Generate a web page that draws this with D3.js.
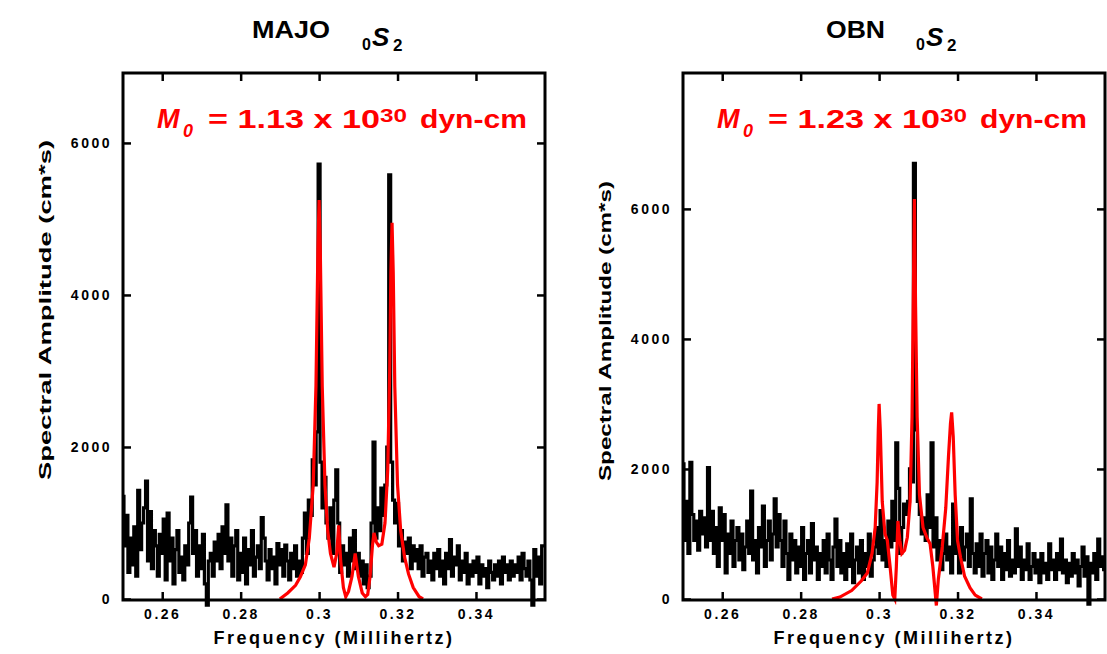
<!DOCTYPE html>
<html>
<head>
<meta charset="utf-8">
<script src="https://cdn.jsdelivr.net/npm/d3@7"></script>
<style>
  body { margin: 0; background: #fff; }
  svg { display: block; }
  text { font-family: "Liberation Sans", Arial, Helvetica, sans-serif; font-weight: bold; }
</style>
</head>
<body>
<div id="chart"></div>
<script>
// frequency grid of the observed spectra (Millihertz)
const freqStart = 0.25;
const freqStep = 0.0005;

const xTicks = [0.26, 0.28, 0.30, 0.32, 0.34];
const xTickLabels = ["0.26", "0.28", "0.3", "0.32", "0.34"];
const yTicks = [0, 2000, 4000, 6000];

// MAJO observed spectrum
const majoObs = [
  1350, 700, 1100, 350, 800, 450, 950, 300, 1430, 650,
  1000, 1200, 1550, 500, 1150, 400, 900, 700, 300, 850,
  600, 1050, 250, 1130, 500, 800, 200, 650, 900, 350,
  550, 250, 700, 450, 1000, 1340, 600, 900, 300, 700,
  400, 850, 200, -80, 500, 600, 300, 750, 500, 850,
  400, 950, 600, 1240, 500, 800, 300, 700, 900, 250,
  600, 350, 800, 200, 650, 450, 900, 300, 550, 700,
  400, 1070, 800, 500, 250, 650, 400, 550, 200, 730,
  450, 650, 300, 710, 500, 250, 600, 400, 700, 300,
  500, 350, 800, 1130, 600, 1300, 1100, 1830, 1500, 2200,
  5720, 1800, 1200, 1600, 1000, 800, 1200, 600, 1300, 1700,
  1000, 350, 700, 450, 600, 300, 800, 500, 900, 400,
  600, 300, 500, 200, 450, 150, 300, 1000, 2065, 800,
  1200, 900, 1460, 1100, 1500, 2000, 5580, 1800, 1300, 1000,
  1260, 700, 900, 500, 750, 600, 800, 400, 700, 500,
  650, 400, 700, 300, 550, 600, 350, 500, 250, 600,
  400, 650, 300, 500, 200, 600, 400, 780, 300, 550,
  450, 700, 250, 500, 350, 600, 200, 450, 300, 500,
  350, 550, 200, 450, 300, 400, 150, 500, 350, 250,
  450, 300, 500, 200, 550, 350, 450, 250, 500, 300,
  450, 350, 550, 250, 600, 400, 300, 500, 250, -80,
  650, 300, 550, 200, 700, 700
];

// MAJO synthetic fit
const majoFitFreq = [
  0.2900, 0.2920, 0.2940, 0.2952, 0.2965, 0.2975, 0.2985, 0.2992, 0.2997, 0.3000,
  0.3003, 0.3008, 0.3015, 0.3022, 0.3029, 0.3038, 0.3045, 0.3050, 0.3055, 0.3062,
  0.3068, 0.3075, 0.3084, 0.3092, 0.3100, 0.3110, 0.3118, 0.3124, 0.3130, 0.3136,
  0.3140, 0.3146, 0.3152, 0.3160, 0.3168, 0.3175, 0.3180, 0.3183, 0.3186, 0.3189,
  0.3193, 0.3200, 0.3208, 0.3218, 0.3228, 0.3240, 0.3255, 0.3265
];
const majoFit = [
  0, 80, 180, 290, 450, 800, 1500, 2800, 4600, 5250,
  4600, 2800, 1500, 900, 600, 420, 600, 970, 500, 150,
  30, 100, 300, 600, 300, 80, 30, 60, 300, 700,
  870, 750, 700, 720, 1000, 1700, 3000, 4300, 4950, 4300,
  2800, 1500, 900, 550, 330, 150, 30, 0
];

// OBN observed spectrum
const obnObs = [
  2080, 900, 1500, 700, 2100, 1300, 900, 1200, 750, 1350,
  1000, 1250, 800, 2020, 900, 1350, 700, 1100, 500, 1400,
  900, 1300, 400, 1000, 700, 1200, 500, 900, 1100, 600,
  1000, 450, 800, 1200, 700, 1660, 600, 900, 400, 1100,
  800, 1430, 500, 900, 1200, 600, 1000, 1540, 800, 1300,
  900, 500, 1200, 700, 300, 1000, 600, 900, 400, 800,
  500, 1100, 300, 700, 900, 400, 1160, 600, 800, 300,
  700, 500, 900, 400, 1000, 600, 300, 800, 1230, 500,
  900, 400, 700, 300, 850, 500, 1000, 250, 600, 800,
  400, 900, 300, 700, 500, 1000, 350, 600, 800, 1100,
  700, 1360, 600, 900, 500, 1200, 800, 1500, 900, 2400,
  1700, 700, 1100, 1460, 1300, 1500, 2000, 1800, 6700, 2600,
  1500, 1300, 1000, 1250, 900, 1600, 1100, 2400, 800, 1250,
  600, 900, 450, 700, 1000, 600, 800, 400, 1460, 700,
  900, 400, 1100, 600, 800, 1000, 500, 1540, 700, 400,
  850, 500, 1000, 350, 700, 900, 400, 800, 300, 600,
  1000, 500, 800, 300, 700, 450, 900, 350, 600, 400,
  1080, 500, 800, 300, 600, 450, 850, 300, 500, 700,
  400, 600, 250, 700, 400, 550, 300, 850, 450, 600,
  300, 700, 450, 920, 400, 600, 250, 550, 350, 700,
  400, 600, 200, 500, 800, 350, 650, -80, 550, 400,
  700, 300, 920, 500, 650, 450
];

// OBN synthetic fit
const obnFitFreq = [
  0.2880, 0.2900, 0.2930, 0.2955, 0.2970, 0.2982, 0.2990, 0.2995, 0.2998, 0.3000,
  0.3003, 0.3008, 0.3015, 0.3021, 0.3028, 0.3035, 0.3040, 0.3044, 0.3048, 0.3053,
  0.3058, 0.3065, 0.3072, 0.3079, 0.3084, 0.3087, 0.3090, 0.3093, 0.3097, 0.3103,
  0.3112, 0.3122, 0.3130, 0.3137, 0.3146, 0.3151, 0.3161, 0.3170, 0.3177, 0.3182,
  0.3185, 0.3189, 0.3194, 0.3200, 0.3208, 0.3218, 0.3232, 0.3245, 0.3262
];
const obnFit = [
  0, 30, 130, 280, 400, 700, 1100, 1800, 2600, 3000,
  2600, 1500, 1000, 900, 500, 60, 0, 500, 1200, 900,
  700, 750, 950, 1500, 2800, 4500, 6150, 4500, 2800, 1600,
  1100, 940, 850, 500, -100, 300, 800, 1400, 2200, 2700,
  2870, 2500, 1600, 900, 630, 350, 170, 60, 0
];

const panels = [
  { left: 123, title: "MAJO", titleX: 252, titleW: 78, sX: 372,
    yMax: 6920, obs: majoObs, fitFreq: majoFitFreq, fit: majoFit,
    moment: "1.13", yLabelLen: 340, yLabelY: 310 },
  { left: 683, title: "OBN", titleX: 826, titleW: 59, sX: 926,
    yMax: 8090, obs: obnObs, fitFreq: obnFitFreq, fit: obnFit,
    moment: "1.23", yLabelLen: 300, yLabelY: 331 }
];

const W = 1107, H = 654;
const plotTop = 73, plotBottom = 600, plotW = 422;

const svg = d3.select("#chart").append("svg")
  .attr("width", W)
  .attr("height", H);

panels.forEach(p => {
  const x = d3.scaleLinear().domain([0.25, 0.3576]).range([p.left, p.left + plotW]);
  const y = d3.scaleLinear().domain([0, p.yMax]).range([plotBottom - 1, plotTop]);

  const g = svg.append("g");

  // observed spectrum (stair-stepped like the original plot)
  const obsLine = d3.line()
    .x((d, i) => x(freqStart + i * freqStep))
    .y(d => y(d))
    .curve(d3.curveStep);
  g.append("path")
    .datum(p.obs)
    .attr("d", obsLine)
    .attr("fill", "none")
    .attr("stroke", "#000")
    .attr("stroke-width", 3.2);

  // synthetic fit
  const fitLine = d3.line()
    .x((d, i) => x(p.fitFreq[i]))
    .y(d => y(d));
  g.append("path")
    .datum(p.fit)
    .attr("d", fitLine)
    .attr("fill", "none")
    .attr("stroke", "#ff0000")
    .attr("stroke-width", 3.2);

  // axes, ticks pointing inward
  const xAxisB = d3.axisBottom(x).tickValues(xTicks)
    .tickFormat((d, i) => xTickLabels[i]).tickSize(-8).tickPadding(9);
  const xAxisT = d3.axisTop(x).tickValues(xTicks).tickFormat("").tickSize(-8);
  const yAxisL = d3.axisLeft(y).tickValues(yTicks).tickFormat(d3.format("d"))
    .tickSize(-8).tickPadding(11);
  const yAxisR = d3.axisRight(y).tickValues(yTicks).tickFormat("").tickSize(-8);

  const axes = [
    g.append("g").attr("transform", `translate(0,${plotBottom})`).call(xAxisB),
    g.append("g").attr("transform", `translate(0,${plotTop})`).call(xAxisT),
    g.append("g").attr("transform", `translate(${p.left},0)`).call(yAxisL),
    g.append("g").attr("transform", `translate(${p.left + plotW},0)`).call(yAxisR)
  ];
  axes.forEach(a => {
    a.select(".domain").remove();
    a.selectAll(".tick line").attr("stroke", "#000").attr("stroke-width", 2.5);
    a.selectAll(".tick text")
      .attr("fill", "#000")
      .style("font-size", "14px")
      .style("letter-spacing", "2.5px");
  });

  // frame
  g.append("rect")
    .attr("x", p.left)
    .attr("y", plotTop)
    .attr("width", plotW)
    .attr("height", plotBottom - plotTop)
    .attr("fill", "none")
    .attr("stroke", "#000")
    .attr("stroke-width", 3);

  // axis titles
  g.append("text")
    .attr("x", p.left + plotW / 2)
    .attr("y", 644)
    .attr("text-anchor", "middle")
    .style("font-size", "18px")
    .style("letter-spacing", "2.5px")
    .text("Frequency (Millihertz)");

  g.append("text")
    .attr("transform", `translate(${p.left - 72},${p.yLabelY}) rotate(-90)`)
    .attr("text-anchor", "middle")
    .attr("textLength", p.yLabelLen)
    .attr("lengthAdjust", "spacingAndGlyphs")
    .style("font-size", "16px")
    .text("Spectral Amplitude (cm*s)");

  // panel title
  g.append("text")
    .attr("x", p.titleX)
    .attr("y", 38)
    .attr("textLength", p.titleW)
    .attr("lengthAdjust", "spacingAndGlyphs")
    .style("font-size", "24px")
    .text(p.title);
  g.append("text").attr("x", p.sX - 10).attr("y", 50).style("font-size", "16px").text("0");
  g.append("text").attr("x", p.sX).attr("y", 46)
    .style("font-size", "26px").style("font-style", "italic").text("S");
  g.append("text").attr("x", p.sX + 21).attr("y", 51).style("font-size", "17px").text("2");

  // seismic moment annotation
  const o = p.left - 123;
  const red = g.append("g").attr("fill", "#ff0000");
  red.append("text").attr("x", o + 157).attr("y", 128)
    .style("font-size", "27px").style("font-style", "italic").text("M");
  red.append("text").attr("x", o + 183).attr("y", 137)
    .style("font-size", "18px").style("font-style", "italic").text("0");
  red.append("text").attr("x", o + 208).attr("y", 128)
    .attr("textLength", 172).attr("lengthAdjust", "spacingAndGlyphs")
    .style("font-size", "25px").text(`= ${p.moment} x 10`);
  red.append("text").attr("x", o + 380).attr("y", 122)
    .attr("textLength", 27).attr("lengthAdjust", "spacingAndGlyphs")
    .style("font-size", "18px").text("30");
  red.append("text").attr("x", o + 420).attr("y", 128)
    .attr("textLength", 107).attr("lengthAdjust", "spacingAndGlyphs")
    .style("font-size", "25px").text("dyn-cm");
});
</script>
</body>
</html>
